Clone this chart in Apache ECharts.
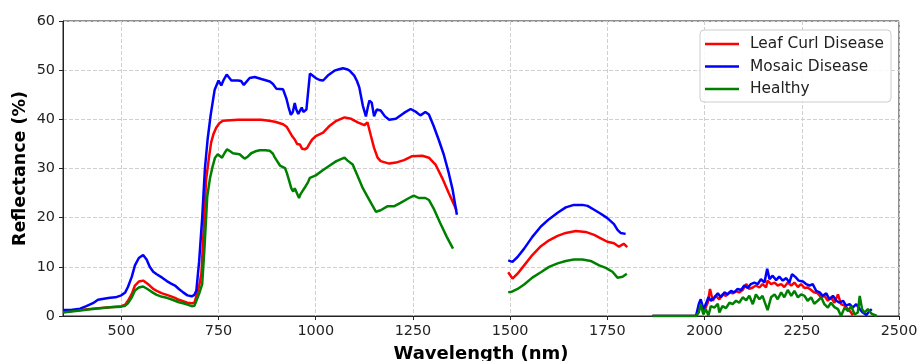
<!DOCTYPE html>
<html>
<head>
<meta charset="utf-8">
<script src="https://cdn.jsdelivr.net/npm/echarts@6/dist/echarts.min.js"></script>
<style>
  html, body { margin: 0; padding: 0; background: #fff; }
  #chart { width: 919px; height: 361px; }
</style>
</head>
<body>
<div id="chart"></div>
<script>
// wavelengths (nm) and reflectance (%), null = gap
const leafNm = [350, 394, 427, 471, 500, 510, 517, 527, 535, 545, 556, 565, 573, 582, 591, 605, 617, 628, 638, 648, 659, 670, 681, 688, 693, 700, 706, 712, 718, 725, 731, 737, 744, 752, 761, 780, 800, 830, 860, 880, 895, 916, 925, 934, 940, 946, 952, 959, 965, 972, 978, 983, 990, 1000, 1019, 1036, 1053, 1074, 1091, 1108, 1125, 1133, 1142, 1150, 1159, 1167, 1189, 1206, 1227, 1248, 1274, 1291, 1308, 1325, 1342, 1356, 1362,
  1430,
  1495, 1506, 1519, 1536, 1557, 1579, 1600, 1622, 1643, 1669, 1694, 1716, 1733, 1750, 1767, 1780, 1792, 1801,
  1835,
  1866, 1978, 1982, 1990, 1999, 2008, 2014, 2021, 2029, 2038, 2046, 2055, 2064, 2072, 2081, 2089, 2098, 2107, 2115, 2124, 2132, 2141, 2149, 2158, 2162, 2171, 2180, 2188, 2197, 2205, 2214, 2223, 2231, 2240, 2248, 2257, 2265, 2274, 2282, 2291, 2300, 2308, 2317, 2325, 2334, 2343, 2351, 2360, 2369, 2377, 2381];
const leafVal = [0.8, 1.2, 1.5, 1.8, 2.0, 2.3, 3.1, 4.5, 6.2, 7.0, 7.2, 6.7, 6.2, 5.5, 5.1, 4.6, 4.3, 4.0, 3.7, 3.3, 3.0, 2.7, 2.6, 2.7, 3.1, 6.0, 8.7, 18.0, 27.7, 32.0, 35.3, 37.0, 38.3, 39.2, 39.7, 39.8, 39.9, 39.9, 39.9, 39.7, 39.5, 39.0, 38.5, 37.3, 36.5, 35.9, 35.0, 34.9, 34.0, 33.9, 34.2, 34.9, 35.8, 36.6, 37.3, 38.7, 39.7, 40.4, 40.1, 39.4, 38.8, 39.4, 36.6, 34.2, 32.2, 31.5, 31.0, 31.2, 31.7, 32.5, 32.6, 32.2, 30.8, 28.1, 25.0, 22.6, 21.5,
  null,
  8.9, 7.6, 8.6, 10.3, 12.4, 14.2, 15.4, 16.3, 16.9, 17.3, 17.1, 16.5, 15.8, 15.1, 14.8, 14.1, 14.7, 14.0,
  null,
  0, 0, 0.7, 2.0, 1.0, 2.7, 5.5, 3.1, 4.1, 3.4, 4.4, 4.1, 4.8, 4.6, 5.0, 4.8, 5.3, 6.5, 5.5, 5.8, 6.2, 5.8, 6.5, 5.8, 7.2, 6.5, 6.8, 6.2, 6.5, 5.9, 6.8, 6.2, 6.8, 5.9, 6.5, 5.7, 5.8, 5.3, 4.8, 4.6, 3.8, 4.1, 3.1, 3.8, 2.7, 4.4, 2.4, 2.1, 1.4, 0.7, 0.1];

const mosaicNm = [350, 370, 394, 410, 427, 440, 455, 471, 485, 500, 510, 517, 527, 535, 545, 556, 565, 573, 582, 591, 605, 617, 628, 638, 648, 659, 670, 681, 688, 693, 700, 708, 715, 722, 730, 740, 750, 757, 763, 771, 783, 800, 808, 815, 830, 843, 860, 882, 890, 899, 916, 925, 930, 936, 941, 946, 950, 955, 960, 964, 968, 971, 976, 981, 985, 990, 1000, 1010, 1019, 1031, 1048, 1060, 1070, 1080, 1087, 1099, 1106, 1112, 1121, 1129, 1134, 1138, 1144, 1150, 1157, 1167, 1178, 1189, 1206, 1227, 1244, 1258, 1269, 1282, 1291, 1303, 1316, 1329, 1342, 1352, 1363,
  1430,
  1495, 1506, 1519, 1536, 1557, 1579, 1600, 1622, 1643, 1664, 1686, 1699, 1716, 1733, 1750, 1767, 1776, 1784, 1797,
  1835,
  1866, 1978, 1985, 1990, 1997, 2003, 2010, 2016, 2025, 2034, 2042, 2051, 2059, 2068, 2076, 2085, 2094, 2102, 2111, 2119, 2128, 2137, 2145, 2154, 2161, 2167, 2175, 2184, 2192, 2201, 2210, 2218, 2225, 2234, 2242, 2253, 2261, 2270, 2278, 2287, 2296, 2304, 2313, 2321, 2330, 2339, 2347, 2356, 2364, 2373, 2381, 2390, 2399, 2407, 2416, 2424, 2430];
const mosaicVal = [1.2, 1.2, 1.5, 2.0, 2.6, 3.3, 3.5, 3.7, 3.8, 4.2, 4.8, 5.9, 8.0, 10.3, 11.8, 12.4, 11.5, 10.0, 9.0, 8.5, 7.8, 7.1, 6.6, 6.2, 5.5, 4.8, 4.2, 4.0, 4.3, 5.2, 11.0, 20.0, 30.0, 36.0, 41.0, 46.0, 47.9, 46.9, 48.0, 49.1, 47.9, 47.9, 47.8, 47.0, 48.4, 48.6, 48.2, 47.7, 47.2, 46.2, 46.1, 44.1, 42.5, 40.9, 41.5, 43.3, 42.0, 41.1, 41.5, 42.4, 41.5, 41.1, 42.0, 41.8, 49.3, 48.9, 48.4, 48.0, 47.9, 48.9, 49.9, 50.2, 50.4, 50.2, 49.9, 48.9, 47.8, 46.5, 42.8, 40.6, 42.5, 43.8, 43.4, 40.6, 42.0, 41.8, 40.6, 39.9, 40.1, 41.3, 42.1, 41.5, 40.8, 41.5, 41.0, 38.7, 35.9, 32.9, 29.1, 25.7, 20.6,
  null,
  11.3, 11.0, 12.0, 13.7, 16.1, 18.2, 19.7, 21.0, 22.1, 22.6, 22.6, 22.4, 21.6, 20.8, 19.9, 18.7, 17.5, 16.9, 16.7,
  null,
  0, 0, 2.4, 3.4, 1.4, 2.4, 3.8, 3.1, 3.8, 4.6, 3.8, 4.8, 4.4, 5.1, 4.8, 5.5, 5.3, 6.2, 5.7, 6.5, 6.8, 6.5, 7.5, 6.8, 9.6, 7.5, 8.2, 7.3, 8.0, 7.2, 7.7, 6.8, 8.5, 7.9, 7.2, 7.0, 6.5, 6.2, 6.5, 5.1, 4.8, 4.1, 4.6, 3.4, 4.1, 3.1, 2.7, 3.1, 2.1, 2.4, 1.7, 2.4, 1.4, 0.7, 0.2, 1.0, 1.4];

const healthyNm = [350, 394, 427, 471, 500, 510, 517, 527, 535, 545, 556, 565, 573, 582, 591, 605, 617, 628, 638, 648, 659, 670, 681, 688, 693, 700, 708, 714, 721, 728, 735, 741, 748, 753, 759, 766, 772, 780, 787, 804, 810, 817, 825, 834, 845, 856, 870, 882, 890, 895, 908, 921, 926, 931, 937, 942, 946, 951, 957, 961, 965, 970, 974, 980, 985, 1000, 1019, 1036, 1053, 1074, 1082, 1095, 1108, 1121, 1133, 1142, 1155, 1167, 1184, 1201, 1218, 1240, 1252, 1265, 1282, 1291, 1303, 1320, 1337, 1353,
  1430,
  1495, 1506, 1519, 1536, 1557, 1579, 1600, 1622, 1643, 1664, 1686, 1707, 1729, 1746, 1763, 1776, 1789, 1800,
  1835,
  1866, 1978, 1985, 1990, 1997, 2003, 2010, 2016, 2025, 2034, 2038, 2046, 2055, 2064, 2072, 2081, 2089, 2098, 2107, 2115, 2124, 2132, 2141, 2149, 2162, 2171, 2180, 2188, 2197, 2205, 2214, 2223, 2231, 2240, 2248, 2257, 2265, 2274, 2282, 2291, 2300, 2308, 2317, 2325, 2334, 2343, 2351, 2360, 2369, 2377, 2386, 2394, 2399, 2405, 2411, 2420, 2429, 2443];
const healthyVal = [0.7, 1.1, 1.4, 1.8, 1.9, 2.1, 2.6, 3.8, 5.2, 5.8, 6.0, 5.6, 5.2, 4.7, 4.3, 3.9, 3.7, 3.4, 3.1, 2.8, 2.6, 2.3, 2.0, 2.1, 2.3, 4.5, 6.5, 14.0, 24.3, 28.0, 30.5, 32.2, 32.9, 32.6, 32.2, 33.2, 33.9, 33.5, 33.1, 32.9, 32.5, 32.0, 32.4, 33.1, 33.5, 33.7, 33.7, 33.6, 33.0, 32.2, 30.6, 30.1, 29.0, 27.7, 26.0, 25.3, 26.0, 25.6, 24.0, 24.8, 25.3, 25.5, 26.4, 27.2, 28.1, 28.6, 29.7, 30.6, 31.5, 32.2, 31.6, 30.8, 28.4, 26.0, 24.3, 23.0, 21.2, 21.5, 22.3, 22.3, 23.0, 24.0, 24.5, 24.0, 24.0, 23.6, 21.9, 18.9, 16.1, 13.7,
  null,
  4.8, 5.0, 5.5, 6.4, 7.8, 8.9, 10.0, 10.7, 11.2, 11.5, 11.5, 11.2, 10.3, 9.8, 9.0, 7.8, 8.0, 8.6,
  null,
  0, 0, 0.7, 2.4, 0.3, 1.4, 0.1, 2.0, 1.7, 2.5, 0.7, 2.0, 1.6, 2.7, 2.4, 3.1, 2.7, 3.8, 3.2, 4.1, 2.4, 4.4, 3.4, 4.1, 1.2, 3.8, 4.4, 3.4, 4.8, 3.8, 5.3, 4.1, 5.1, 3.8, 4.4, 4.1, 3.1, 3.8, 2.5, 3.1, 3.8, 2.4, 1.7, 2.7, 1.8, 1.4, 0, 1.7, 1.0, 2.0, 0.3, 0.7, 4.1, 1.4, 0.7, 1.4, 0.5, 0];

const xTicks = [500, 750, 1000, 1250, 1500, 1750, 2000, 2250, 2500];

function pairs(nm, val) {
  return nm.map(function (x, i) { return [x, val[i] === null ? '-' : val[i]]; });
}

const chart = echarts.init(document.getElementById('chart'));
const font = 'DejaVu Sans';

chart.setOption({
  animation: false,
  grid: {
    left: 63, right: 20, top: 21, bottom: 45,
    outerBoundsMode: 'none', containLabel: false,
    show: true, borderColor: '#222', borderWidth: 1, backgroundColor: 'transparent'
  },
  legend: {
    orient: 'vertical',
    left: 700, top: 30,
    padding: [5, 7, 4, 5],
    itemGap: 4.5,
    itemWidth: 34, itemHeight: 2.5,
    icon: 'rect',
    backgroundColor: 'rgba(255,255,255,0.85)',
    borderColor: '#cccccc', borderWidth: 1, borderRadius: 4,
    textStyle: { fontFamily: font, fontSize: 15.4, color: '#222', lineHeight: 18, padding: [0, 0, 0, 6] },
    data: ['Leaf Curl Disease', 'Mosaic Disease', 'Healthy']
  },
  xAxis: {
    type: 'value', min: 350, max: 2500,
    name: 'Wavelength (nm)', nameLocation: 'middle', nameGap: 29,
    nameTextStyle: { fontFamily: font, fontSize: 18, fontWeight: 'bold', color: '#000' },
    axisLine: { show: true, lineStyle: { color: '#222', width: 1 } },
    axisTick: { show: true, length: 4, customValues: xTicks, lineStyle: { color: '#222' } },
    axisLabel: {
      customValues: xTicks, margin: 8, fontFamily: font, fontSize: 14.4, color: '#222',
      formatter: function (v) { return String(v); }
    },
    splitLine: { show: true, lineStyle: { color: '#cfcfcf', type: [4, 2], width: 1 } }
  },
  yAxis: {
    type: 'value', min: 0, max: 60, interval: 10,
    name: 'Reflectance (%)', nameLocation: 'middle', nameGap: 34, nameRotate: 90,
    nameMoveOverlap: false,
    nameTextStyle: { fontFamily: font, fontSize: 17.5, fontWeight: 'bold', color: '#000' },
    axisLine: { show: true, lineStyle: { color: '#222', width: 1 } },
    axisTick: { show: true, length: 4, lineStyle: { color: '#222' } },
    axisLabel: { margin: 8, fontFamily: font, fontSize: 14.4, color: '#222' },
    splitLine: { show: true, lineStyle: { color: '#cfcfcf', type: [4, 2], width: 1 } }
  },
  series: [
    {
      name: 'Leaf Curl Disease', type: 'line', showSymbol: false, connectNulls: false,
      itemStyle: { color: '#ff0000' }, lineStyle: { color: '#ff0000', width: 2.5 },
      data: pairs(leafNm, leafVal)
    },
    {
      name: 'Mosaic Disease', type: 'line', showSymbol: false, connectNulls: false,
      itemStyle: { color: '#0000ff' }, lineStyle: { color: '#0000ff', width: 2.5 },
      data: pairs(mosaicNm, mosaicVal)
    },
    {
      name: 'Healthy', type: 'line', showSymbol: false, connectNulls: false,
      itemStyle: { color: '#008000' }, lineStyle: { color: '#008000', width: 2.5 },
      data: pairs(healthyNm, healthyVal)
    }
  ]
});
</script>
</body>
</html>
